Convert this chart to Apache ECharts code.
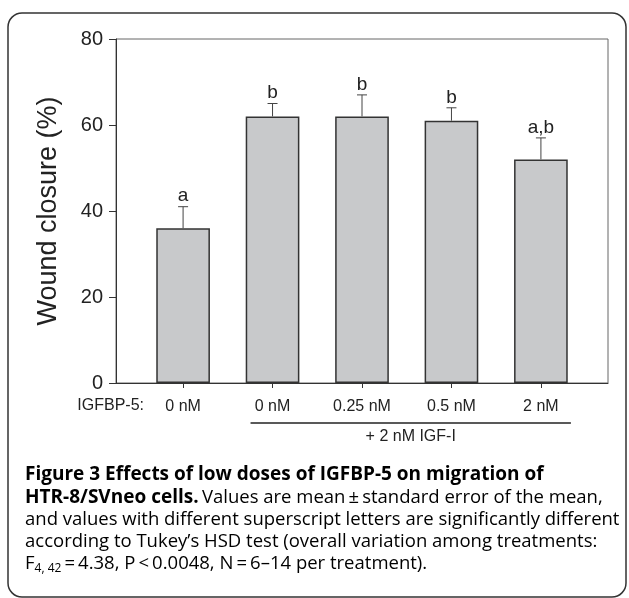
<!DOCTYPE html>
<html>
<head>
<meta charset="utf-8">
<script src="https://cdn.jsdelivr.net/npm/echarts@6/dist/echarts.min.js"></script>
<style>
  html, body { margin: 0; padding: 0; background: #fff; }
  #chart { width: 629px; height: 598px; }
</style>
</head>
<body>
<div id="chart"></div>
<script>
// IGFBP-5 dose for each treatment (all but the first also got 2 nM IGF-I)
const doses = ['0 nM', '0 nM', '0.25 nM', '0.5 nM', '2 nM']
const closure = [36, 62, 62, 61, 52]
const sem = [5, 3, 5, 3, 5]
const letters = ['a', 'b', 'b', 'b', 'a,b']
const yMin = 0
const yMax = 80
const yStep = 20

const captionLines = [
  '{b|Figure 3 Effects of low doses of IGFBP-5 on migration of}',
  '{b|HTR-8/SVneo cells.} {r|Values are mean\u2009±\u2009standard error of the mean,}',
  '{r|and values with different superscript letters are significantly different}',
  '{r|according to Tukey’s HSD test (overall variation among treatments:}',
  '{r|F}{s|4, 42}{r|\u2009=\u20094.38, P\u2009<\u20090.0048, N\u2009=\u20096–14 per treatment).}',
]

const axisFont = 'Liberation Sans, Arial, sans-serif'
const capFont = 'Open Sans, Noto Sans, sans-serif'

const chart = echarts.init(document.getElementById('chart'))

// frame grid spans 5.5 bands, bar grid is the inner 5 bands
const frame = { left: 116, right: 21, top: 39, bottom: 215 }
const band = (629 - frame.left - frame.right) / 5.5

const option = {
  animation: false,
  grid: [
    { ...frame, show: true, borderColor: '#666', borderWidth: 1 },
    {
      left: frame.left + band * 0.25,
      right: frame.right + band * 0.25,
      top: frame.top,
      bottom: frame.bottom,
    },
  ],
  xAxis: [
    {
      gridIndex: 0, type: 'value', min: 0, max: 1,
      axisLine: { show: true, lineStyle: { color: '#333', width: 1 } },
      axisTick: { show: false }, axisLabel: { show: false }, splitLine: { show: false },
    },
    {
      gridIndex: 1, type: 'category', data: doses, boundaryGap: true,
      axisLine: { show: false },
      axisTick: { show: true, alignWithLabel: true, length: 5, lineStyle: { color: '#333' } },
      axisLabel: { fontFamily: axisFont, fontSize: 16, color: '#222', margin: 16 },
    },
  ],
  yAxis: [
    {
      gridIndex: 0, type: 'value', min: yMin, max: yMax, interval: yStep,
      name: 'Wound closure (%)', nameLocation: 'middle', nameGap: 54,
      nameTextStyle: { fontFamily: axisFont, fontSize: 27, color: '#222' },
      axisLine: { show: true, lineStyle: { color: '#333', width: 1 } },
      axisTick: { show: true, length: 7, lineStyle: { color: '#333' } },
      axisLabel: { fontFamily: axisFont, fontSize: 20, color: '#222', margin: 13 },
      splitLine: { show: false },
    },
    {
      gridIndex: 1, type: 'value', min: yMin, max: yMax, show: false,
    },
  ],
  series: [
    {
      type: 'bar', xAxisIndex: 1, yAxisIndex: 1,
      data: closure, barWidth: '60%',
      itemStyle: { color: '#c8c9cb', borderColor: '#333', borderWidth: 1.5 },
    },
    {
      type: 'custom', xAxisIndex: 1, yAxisIndex: 1, z: 5,
      data: closure.map((v, i) => [i, v, sem[i]]),
      renderItem(params, api) {
        const i = api.value(0)
        const base = api.coord([i, api.value(1)])
        const top = api.coord([i, api.value(1) + api.value(2)])
        const st = { stroke: '#444', lineWidth: 1 }
        return {
          type: 'group',
          children: [
            { type: 'line', shape: { x1: base[0], y1: base[1], x2: top[0], y2: top[1] }, style: st },
            { type: 'line', shape: { x1: top[0] - 5, y1: top[1], x2: top[0] + 5, y2: top[1] }, style: st },
            {
              type: 'text', x: top[0], y: top[1] - 1,
              style: {
                text: letters[params.dataIndex], align: 'center', verticalAlign: 'bottom',
                fontFamily: axisFont, fontSize: 19, fill: '#222',
              },
            },
          ],
        }
      },
    },
  ],
}

chart.setOption(option)

// annotations that depend on category positions
const p1 = chart.convertToPixel({ xAxisIndex: 1 }, 1)
const p4 = chart.convertToPixel({ xAxisIndex: 1 }, 4)
const lineY = 423
const lineL = p1 - 22
const lineR = p4 + 30

const graphics = [
  {
    type: 'rect', shape: { x: 8, y: 13, width: 618, height: 584, r: 14 },
    style: { fill: 'none', stroke: '#333', lineWidth: 1.5 }, silent: true,
  },
  {
    type: 'text', x: 144, y: 406,
    style: { text: 'IGFBP-5:', align: 'right', verticalAlign: 'middle', fontFamily: axisFont, fontSize: 16, fill: '#222' },
  },
  {
    type: 'line', shape: { x1: lineL, y1: lineY, x2: lineR, y2: lineY },
    style: { stroke: '#222', lineWidth: 1.5 },
  },
  {
    type: 'text', x: (lineL + lineR) / 2, y: 437,
    style: { text: '+ 2 nM IGF-I', align: 'center', verticalAlign: 'middle', fontFamily: axisFont, fontSize: 16, fill: '#222' },
  },
]

captionLines.forEach((txt, k) => {
  graphics.push({
    type: 'text', x: 25, y: 475 + k * 22.3,
    style: {
      text: txt, align: 'left', verticalAlign: 'middle',
      rich: {
        b: { fontFamily: capFont, fontSize: 19, fontWeight: 'bold', color: '#231f20' },
        r: { fontFamily: capFont, fontSize: 18.5, color: '#555' },
        s: { fontFamily: capFont, fontSize: 12, color: '#555', verticalAlign: 'bottom', padding: [9, 0, 0, 0] },
      },
    },
  })
})

chart.setOption({ graphic: graphics })
</script>
</body>
</html>
